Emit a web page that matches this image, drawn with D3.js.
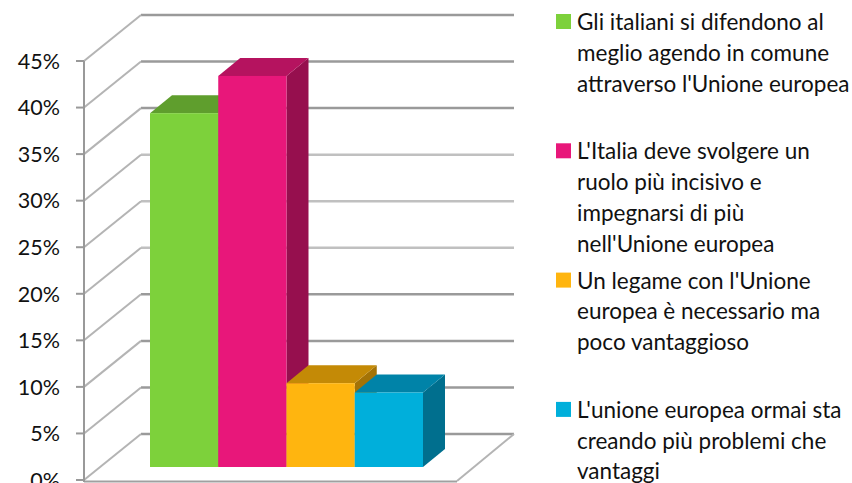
<!DOCTYPE html>
<html>
<head>
<meta charset="utf-8">
<script src="https://cdn.jsdelivr.net/npm/d3@7"></script>
<style>
  body { margin: 0; background: #fff; }
  text { font-family: Lato, "Open Sans", sans-serif; fill: #111; }
</style>
</head>
<body>
<script>
var w = 852, h = 483;

// data
var series = [
  "Gli italiani si difendono al meglio agendo in comune attraverso l'Unione europea",
  "L'Italia deve svolgere un ruolo più incisivo e impegnarsi di più nell'Unione europea",
  "Un legame con l'Unione europea è necessario ma poco vantaggioso",
  "L'unione europea ormai sta creando più problemi che vantaggi"
];
var legendLines = [
  ["Gli italiani si difendono al", "meglio agendo in comune", "attraverso l'Unione europea"],
  ["L'Italia deve svolgere un", "ruolo più incisivo e", "impegnarsi di più", "nell'Unione europea"],
  ["Un legame con l'Unione", "europea è necessario ma", "poco vantaggioso"],
  ["L'unione europea ormai sta", "creando più problemi che", "vantaggi"]
];
var values = [0.38, 0.42, 0.09, 0.08];
var ticks = [0, 0.05, 0.10, 0.15, 0.20, 0.25, 0.30, 0.35, 0.40, 0.45];
var colors = [
  {front: "#7dd13b", top: "#5f9e2d", side: "#4f8526"},
  {front: "#e8177a", top: "#b5135f", side: "#960f4e"},
  {front: "#ffb50f", top: "#c48a06", side: "#a47306"},
  {front: "#00afdb", top: "#0083a8", side: "#006f8e"}
];

var svg = d3.select("body").append("svg").attr("width", w).attr("height", h);

// front plane scale
var yScale = d3.scaleLinear().domain([0, 0.45]).range([480, 61]);
var xScale = d3.scaleBand().domain(series).range([134, 407]).padding(0);

// 3d depth of the walls and of the bars
var depthX = 57, depthY = -46;
var barOffX = 16, barOffY = -13;
var barDX = 22, barDY = -18;
var x0 = 84, x1 = 457;

// back wall gridlines
svg.selectAll("line.back")
  .data(ticks)
  .enter()
  .append("line")
  .attr("class", "back")
  .attr("x1", x0 + depthX)
  .attr("x2", x1 + depthX)
  .attr("y1", function(d) { return yScale(d) + depthY; })
  .attr("y2", function(d) { return yScale(d) + depthY; })
  .attr("stroke", function(d, i) { return (i >= 4 && i <= 6) ? "#c0c0c0" : "#9a9a9a"; })
  .attr("stroke-width", 2.5);

// side wall diagonals
svg.selectAll("line.diag")
  .data(ticks)
  .enter()
  .append("line")
  .attr("class", "diag")
  .attr("x1", x0)
  .attr("x2", x0 + depthX)
  .attr("y1", function(d) { return yScale(d); })
  .attr("y2", function(d) { return yScale(d) + depthY; })
  .attr("stroke", "#b4b4b4")
  .attr("stroke-width", 2);

// floor
svg.append("line")
  .attr("x1", x1).attr("x2", x1 + depthX)
  .attr("y1", yScale(0) + 1).attr("y2", yScale(0) + depthY)
  .attr("stroke", "#b4b4b4").attr("stroke-width", 2);
svg.append("line")
  .attr("x1", x0).attr("x2", x1)
  .attr("y1", yScale(0) + 1.5).attr("y2", yScale(0) + 1.5)
  .attr("stroke", "#a0a0a0").attr("stroke-width", 2);

// front axis + ticks
svg.append("line")
  .attr("x1", x0).attr("x2", x0)
  .attr("y1", yScale(0.45)).attr("y2", yScale(0) + 2)
  .attr("stroke", "#999").attr("stroke-width", 2);
svg.selectAll("line.tick")
  .data(ticks)
  .enter()
  .append("line")
  .attr("x1", x0 - 8).attr("x2", x0)
  .attr("y1", function(d) { return yScale(d); })
  .attr("y2", function(d) { return yScale(d); })
  .attr("stroke", "#999").attr("stroke-width", 2);
svg.selectAll("text.ylab")
  .data(ticks)
  .enter()
  .append("text")
  .attr("x", 60)
  .attr("y", function(d) { return yScale(d); })
  .attr("dy", "0.36em")
  .attr("text-anchor", "end")
  .style("font-size", "21.5px")
  .text(function(d) { return d3.format(".0%")(d); });

// bars
var bars = svg.selectAll("g.bar")
  .data(values)
  .enter()
  .append("g");

bars.append("path")
  .attr("fill", function(d, i) { return colors[i].side; })
  .attr("d", function(d, i) {
    var xr = xScale(series[i]) + xScale.bandwidth() + barOffX;
    var yt = yScale(d) + barOffY, yb = yScale(0) + barOffY;
    return "M" + xr + "," + yt + "L" + (xr + barDX) + "," + (yt + barDY) +
      "L" + (xr + barDX) + "," + (yb + barDY) + "L" + xr + "," + yb + "Z";
  });
bars.append("path")
  .attr("fill", function(d, i) { return colors[i].top; })
  .attr("d", function(d, i) {
    var xl = xScale(series[i]) + barOffX;
    var xr = xl + xScale.bandwidth();
    var yt = yScale(d) + barOffY;
    return "M" + xl + "," + yt + "L" + xr + "," + yt + "L" + (xr + barDX) + "," + (yt + barDY) +
      "L" + (xl + barDX) + "," + (yt + barDY) + "Z";
  });
bars.append("rect")
  .attr("fill", function(d, i) { return colors[i].front; })
  .attr("x", function(d, i) { return xScale(series[i]) + barOffX; })
  .attr("y", function(d) { return yScale(d) + barOffY; })
  .attr("width", xScale.bandwidth())
  .attr("height", function(d) { return yScale(0) - yScale(d); });

// legend
var legend = svg.selectAll("g.legend")
  .data(legendLines)
  .enter()
  .append("g")
  .attr("transform", function(d, i) { return "translate(556," + (14 + i * 129.3) + ")"; });

legend.append("rect")
  .attr("width", 15).attr("height", 15)
  .attr("fill", function(d, i) { return colors[i].front; });

legend.each(function(lines) {
  d3.select(this).selectAll("text")
    .data(lines)
    .enter()
    .append("text")
    .attr("x", 21)
    .attr("y", function(d, j) { return 16 + j * 30.8; })
    .style("font-size", "22.5px")
    .text(function(d) { return d; });
});
</script>
</body>
</html>
